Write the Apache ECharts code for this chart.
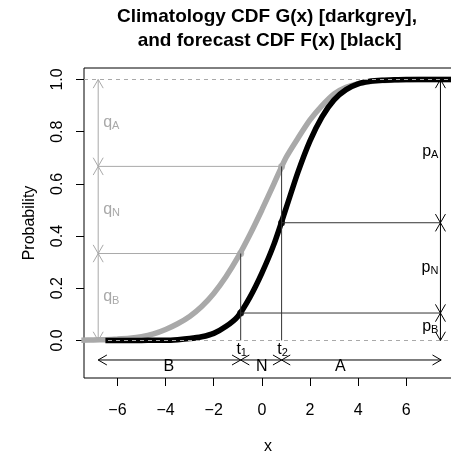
<!DOCTYPE html>
<html><head><meta charset="utf-8">
<script src="https://cdn.jsdelivr.net/npm/echarts@6/dist/echarts.min.js"></script>
<style>html,body{margin:0;padding:0;background:#fff}#c{width:451px;height:452px}</style>
</head><body><div id="c"></div>
<script>
// Climatology CDF G(x) (darkgrey)
const gX = [-7.5,-7,-6.5,-6,-5.5,-5,-4.5,-4,-3.5,-3,-2.5,-2,-1.5,-1,-0.5,0,0.5,1,1.5,2,2.5,3,3.5,4,4.5,5,5.5,6,6.5,7,7.5,8];
const gY = [0.001,0.002,0.003,0.005,0.008,0.014,0.025,0.042,0.064,0.092,0.130,0.180,0.243,0.318,0.405,0.500,0.600,0.700,0.775,0.845,0.900,0.945,0.970,0.984,0.992,0.996,0.998,0.999,1.000,1.000,1.000,1.000];
// Forecast CDF F(x) (black)
const fX = [-6.5,-6,-5.5,-5,-4.5,-4,-3.5,-3,-2.5,-2,-1.5,-1,-0.5,0,0.5,1,1.5,2,2.5,3,3.5,4,4.5,5,5.5,6,6.5,7,7.5,8];
const fY = [0.000,0.000,0.000,0.000,0.001,0.001,0.003,0.007,0.014,0.027,0.053,0.092,0.165,0.258,0.368,0.505,0.645,0.765,0.857,0.922,0.961,0.983,0.993,0.997,0.999,1.000,1.000,1.000,1.000,1.000];
// axis ticks
const xTicks = [-6,-4,-2,0,2,4,6];
const yTicks = [0,0.2,0.4,0.6,0.8,1.0];
// thresholds and probabilities
const tCut = [-0.88, 0.82];
const gAtT = [0.333, 0.667];
const fAtT = [0.105, 0.451];
const qArrowX = -6.8;
const pArrowX = 7.42;
const catArrowY = -0.075;
const catRightX = 7.45;
const catNames = ['B','N','A'];
const catLabelX = [-3.86, 0, 3.26];
const catLabelY = -0.10;
const tNames = ['1','2'];

const GREY = '#A9A9A9', BLACK = '#000000';
const FONT = 'Liberation Sans, Arial, Helvetica, sans-serif';

// segments: x1,y1,x2,y2,colour(0 black,1 grey, 2 darkline),heads
const segs = [];
tCut.forEach((t,i)=>{
  segs.push([qArrowX, gAtT[i], t, gAtT[i], 1, 0]);
  segs.push([t, 0, t, gAtT[i], 2, 0]);
  segs.push([t, fAtT[i], pArrowX, fAtT[i], 2, 0]);
});
const qLev = [0, gAtT[0], gAtT[1], 1];
const pLev = [0, fAtT[0], fAtT[1], 1];
const cLev = [qArrowX, tCut[0], tCut[1], catRightX];
for (let i=0;i<3;i++){
  segs.push([qArrowX, qLev[i], qArrowX, qLev[i+1], 1, 1]);
  segs.push([pArrowX, pLev[i], pArrowX, pLev[i+1], 0, 1]);
  segs.push([cLev[i], catArrowY, cLev[i+1], catArrowY, 0, 1]);
}

// labels
const labels = [];
for (let i=0;i<3;i++){
  labels.push({x:qArrowX, y:(qLev[i]+qLev[i+1])/2, dx:5, dy:0, text:'{m|q}{s|'+catNames[i]+'}', align:'left', va:'middle', color:GREY});
  labels.push({x:pArrowX, y:(pLev[i]+pLev[i+1])/2, dx:-2, dy:0, text:'{m|p}{s|'+catNames[i]+'}', align:'right', va:'middle', color:BLACK});
  labels.push({x:catLabelX[i], y:catLabelY, dx:0, dy:0, text:'{m|'+catNames[i]+'}', align:'center', va:'middle', color:BLACK});
}
tCut.forEach((t,i)=>{
  labels.push({x:t, y:0, dx:1, dy:0, text:'{m|t}{s|'+tNames[i]+'}', align:'center', va:'top', color:BLACK});
});

function rich(col){
  return {
    m:{fontSize:16, fontFamily:FONT, fill:col, color:col, lineHeight:18},
    s:{fontSize:11, fontFamily:FONT, fill:col, color:col, lineHeight:10, verticalAlign:'bottom'}
  };
}

const chart = echarts.init(document.getElementById('c'), null, {renderer:'canvas'});
const minus = v => (v<0 ? '\u2212'+Math.abs(v) : String(v));

function arrowHead(tip, from, col){
  const len=10, ang=Math.PI/6;
  const dx=from[0]-tip[0], dy=from[1]-tip[1];
  const L=Math.hypot(dx,dy)||1; const ux=dx/L, uy=dy/L;
  const c=Math.cos(ang), s=Math.sin(ang);
  const w1=[tip[0]+len*(ux*c-uy*s), tip[1]+len*(ux*s+uy*c)];
  const w2=[tip[0]+len*(ux*c+uy*s), tip[1]+len*(-ux*s+uy*c)];
  return {type:'polyline', shape:{points:[w1,tip,w2]}, style:{stroke:col, fill:null, lineWidth:1}};
}

chart.setOption({
  animation:false,
  backgroundColor:'#fff',
  textStyle:{fontFamily:FONT},
  graphic:[{
    type:'text', x:267, y:5,
    style:{text:'Climatology CDF G(x) [darkgrey],\n and forecast CDF F(x) [black]', align:'center',
      font:'bold 19px '+FONT, lineHeight:24, fill:'#000'}
  }],
  grid:{left:84, top:68, width:368, height:310, show:true, borderColor:'#000', borderWidth:1, backgroundColor:'transparent',
    containLabel:false, outerBoundsMode:'none'},
  xAxis:{type:'value', min:-7.39, max:7.9, position:'bottom',
    axisLine:{show:false, onZero:false}, splitLine:{show:false},
    axisTick:{show:true, customValues:xTicks, length:8, lineStyle:{color:'#000'}},
    axisLabel:{customValues:xTicks, margin:25, fontSize:16, color:'#000', fontFamily:FONT, formatter:minus},
    name:'x', nameLocation:'middle', nameGap:61, nameTextStyle:{fontSize:16, color:'#000', fontFamily:FONT}},
  yAxis:{type:'value', min:-0.144, max:1.044, position:'left',
    axisLine:{show:false, onZero:false}, splitLine:{show:false},
    axisTick:{show:true, customValues:yTicks, length:8, lineStyle:{color:'#000'}},
    axisLabel:{customValues:yTicks, rotate:90, margin:18, fontSize:16, color:'#000', fontFamily:FONT, formatter:v=>v.toFixed(1)},
    name:'Probability', nameLocation:'middle', nameGap:46, nameRotate:90, nameTextStyle:{fontSize:16, color:'#000', fontFamily:FONT}},
  series:[
    {type:'line', data:gX.map((x,i)=>[x,gY[i]]), showSymbol:false, symbol:'none', smooth:0.25, lineStyle:{color:GREY, width:5.5}, z:2, clip:true},
    {type:'line', data:fX.map((x,i)=>[x,fY[i]]), showSymbol:false, symbol:'none', smooth:0.25, lineStyle:{color:BLACK, width:5.5}, z:3, clip:true},
    {type:'scatter', data:tCut.map((t,i)=>[t,gAtT[i]]), symbolSize:7, itemStyle:{color:GREY}, z:4},
    {type:'scatter', data:tCut.map((t,i)=>[t,fAtT[i]]), symbolSize:7, itemStyle:{color:BLACK}, z:4,
      markLine:{silent:true, symbol:'none', label:{show:false}, lineStyle:{color:GREY, type:[4,4], width:1}, data:[{yAxis:0},{yAxis:1}]}},
    {type:'custom', z:6, data:segs, dimensions:['x1','y1','x2','y2','c','h'], encode:{x:[0,2], y:[1,3]},
      renderItem:function(params, api){
        const p1=api.coord([api.value(0),api.value(1)]);
        const p2=api.coord([api.value(2),api.value(3)]);
        const ci=api.value(4);
        const col= ci===1?GREY:(ci===2?'#333':BLACK);
        const children=[{type:'line', shape:{x1:p1[0],y1:p1[1],x2:p2[0],y2:p2[1]}, style:{stroke:col, lineWidth:1}}];
        if(api.value(5)){
          children.push(arrowHead(p1,p2,col));
          children.push(arrowHead(p2,p1,col));
        }
        return {type:'group', children};
      }},
    {type:'custom', z:7, data:labels.map(l=>[l.x,l.y]), encode:{x:0,y:1},
      renderItem:function(params, api){
        const L=labels[params.dataIndex];
        const p=api.coord([L.x,L.y]);
        return {type:'text', x:p[0]+L.dx, y:p[1]+L.dy,
          style:{text:L.text, rich:rich(L.color), fill:L.color, align:L.align, verticalAlign:L.va}};
      }}
  ]
});
</script>
</body></html>
